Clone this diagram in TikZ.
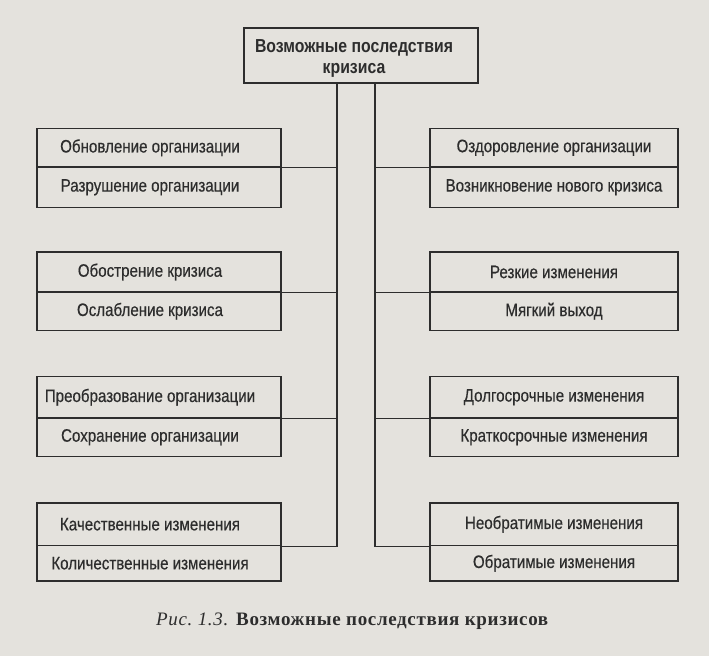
\documentclass[tikz,border=0pt]{standalone}
\usepackage{fontspec}
\setmainfont{Liberation Sans}[FakeStretch=0.84,UprightFeatures={FakeBold=0.4}]
\newfontfamily\capfont{Liberation Serif}[LetterSpace=3.5]
\definecolor{paper}{RGB}{228,226,221}
\definecolor{ink}{RGB}{45,45,45}
\newcommand{\myLshift}[1]{\kern-18pt #1}
\begin{document}
\begin{tikzpicture}[x=1pt,y=-1pt,
  cell/.style={draw=ink, line width=1.2pt, text=ink, inner sep=0pt,
    font=\fontsize{18}{20}\selectfont, anchor=center},
  lcell/.style={cell, minimum width=244pt},
  rcell/.style={cell, minimum width=248pt},
  titlebox/.style={draw=ink, line width=1.9pt, inner sep=0pt,
    minimum width=234pt, minimum height=55pt},
  titletext/.style={text=ink, inner sep=0pt, align=center,
    font=\fontsize{18.8}{20.5}\bfseries\selectfont},
  conn/.style={draw=ink, line width=1.2pt}]
\fill[paper] (0,0) rectangle (709,656);
\useasboundingbox (0,0) rectangle (709,656);

\node[titlebox] (top) at (361,55.5) {};
\node[titletext] (toptext) at (354,58.5) {Возможные последствия\\кризиса};

% left column
\node[lcell, minimum height=38.5pt] (L1u) at (159,147.75) {\myLshift{Обновление организации}};
\node[lcell, minimum height=40.5pt] (L1d) at (159,187.25) {\myLshift{Разрушение организации}};
\node[lcell, minimum height=40pt]   (L2u) at (159,272)    {\myLshift{Обострение кризиса}};
\node[lcell, minimum height=38.5pt] (L2d) at (159,311.25) {\myLshift{Ослабление кризиса}};
\node[lcell, minimum height=41.5pt] (L3u) at (159,397.25) {\myLshift{Преобразование организации}};
\node[lcell, minimum height=38.5pt] (L3d) at (159,437.25) {\myLshift{Сохранение организации}};
\node[lcell, minimum height=42.5pt] (L4u) at (159,524.25) {\myLshift{Качественные изменения}};
\node[lcell, minimum height=35.5pt] (L4d) at (159,563.25) {\myLshift{Количественные изменения}};

% right column
\node[rcell, minimum height=38.5pt] (R1u) at (554,147.75) {Оздоровление организации};
\node[rcell, minimum height=40.5pt] (R1d) at (554,187.25) {Возникновение нового кризиса};
\node[rcell, minimum height=40pt]   (R2u) at (554,272)    {Резкие изменения};
\node[rcell, minimum height=38.5pt] (R2d) at (554,311.25) {Мягкий выход};
\node[rcell, minimum height=41.5pt] (R3u) at (554,397.25) {Долгосрочные изменения};
\node[rcell, minimum height=38.5pt] (R3d) at (554,437.25) {Краткосрочные изменения};
\node[rcell, minimum height=42.5pt] (R4u) at (554,524.25) {Необратимые изменения};
\node[rcell, minimum height=35.5pt] (R4d) at (554,563.25) {Обратимые изменения};

% trunks
\coordinate (tl) at (top.south -| 337,0);
\coordinate (tr) at (top.south -| 375,0);
\draw[conn] (tl) |- (L4u.south east);
\draw[conn] (tr) |- (R4u.south west);
\foreach \n in {1,2,3}{
  \draw[conn] (L\n u.south east) -- (L\n u.south east -| tl);
  \draw[conn] (R\n u.south west) -- (R\n u.south west -| tr);
}

% caption
\node[anchor=base, text=ink, inner sep=0pt, font=\capfont\fontsize{19}{21}\selectfont] (cap) at (352.5,625)
  {\textit{Рис.~1.3.} \textbf{Возможные последствия кризисов}};
\end{tikzpicture}
\end{document}
